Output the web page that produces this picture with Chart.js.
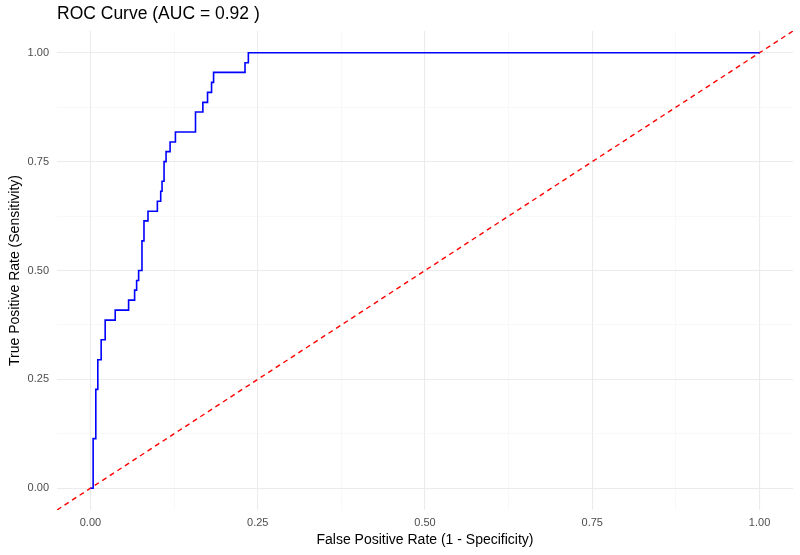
<!DOCTYPE html>
<html>
<head>
<meta charset="utf-8">
<script src="https://cdn.jsdelivr.net/npm/chart.js@4"></script>
<style>
  html, body { margin: 0; padding: 0; background: #fff; }
  #wrap { width: 800px; height: 555px; position: relative; }
</style>
</head>
<body>
<div id="wrap"><canvas id="roc"></canvas></div>
<script>
const fpr = [0, 0.004, 0.008, 0.011, 0.016, 0.022, 0.037, 0.057, 0.066, 0.069, 0.072,
  0.077, 0.080, 0.086, 0.100, 0.105, 0.107, 0.110, 0.113, 0.119, 0.127, 0.157, 0.168,
  0.175, 0.181, 0.184, 0.231, 0.236, 1.000];
const tpr = [0, 0.114, 0.227, 0.295, 0.341, 0.386, 0.409, 0.432, 0.455, 0.477, 0.500,
  0.568, 0.614, 0.636, 0.659, 0.682, 0.705, 0.750, 0.773, 0.795, 0.818, 0.864, 0.886,
  0.909, 0.932, 0.955, 0.977, 1.000, 1.000];
const diagX = [-0.05, 1.05];
const majorTicks = [0, 0.25, 0.5, 0.75, 1];
const minorTicks = [0.125, 0.375, 0.625, 0.875];
const tickLabels = ["0.00", "0.25", "0.50", "0.75", "1.00"];
const auc = "0.92";

const FONT = "'Liberation Sans', Arial, sans-serif";
const allTicks = majorTicks.concat(minorTicks).sort((a, b) => a - b);

function labelFor(v) {
  const i = majorTicks.indexOf(v);
  return i >= 0 ? tickLabels[i] : "";
}

function gridColor(ctx) {
  return majorTicks.includes(ctx.tick.value) ? "#ebebeb" : "#f3f3f3";
}
function gridWidth(ctx) {
  return majorTicks.includes(ctx.tick.value) ? 1.1 : 0.6;
}

function axis(titleText, isX) {
  return {
    type: "linear",
    min: -0.05,
    max: 1.05,
    afterBuildTicks: (s) => { s.ticks = allTicks.map((v) => ({ value: v })); },
    afterFit: (s) => {
      if (isX) s.height = 39;
      else s.width = 50;
    },
    border: { display: false },
    grid: { color: gridColor, lineWidth: gridWidth, drawTicks: false },
    ticks: {
      autoSkip: false,
      maxRotation: 0,
      color: "#4d4d4d",
      font: { family: FONT, size: 11 },
      padding: isX ? 6 : 8,
      callback: (v) => labelFor(v),
    },
    title: {
      display: true,
      text: titleText,
      color: "#000",
      font: { family: FONT, size: 14 },
      padding: isX ? { top: 2, bottom: 0 } : { top: 0, bottom: 4 },
    },
  };
}

const titlePlugin = {
  id: "leftTitle",
  afterDraw(chart) {
    const c = chart.ctx;
    c.save();
    c.fillStyle = "#000";
    c.font = "17.5px " + FONT;
    c.textBaseline = "middle";
    c.fillText(`ROC Curve (AUC = ${auc} )`, chart.chartArea.left, 14);
    c.restore();
  },
};

new Chart(document.getElementById("roc"), {
  type: "scatter",
  data: {
    datasets: [
      {
        label: "ROC",
        data: fpr.map((x, i) => ({ x, y: tpr[i] })),
        showLine: true,
        stepped: "before",
        borderColor: "#0000ff",
        borderWidth: 1.6,
        pointRadius: 0,
        order: 1,
      },
      {
        label: "Chance",
        data: diagX.map((x) => ({ x, y: x })),
        showLine: true,
        borderColor: "#ff0000",
        borderWidth: 1.4,
        borderDash: [5, 4],
        pointRadius: 0,
        order: 2,
      },
    ],
  },
  options: {
    responsive: true,
    maintainAspectRatio: false,
    animation: false,
    layout: { padding: { top: 31, right: 7, left: 7, bottom: 6 } },
    plugins: { legend: { display: false }, tooltip: { enabled: false } },
    scales: {
      x: axis("False Positive Rate (1 - Specificity)", true),
      y: axis("True Positive Rate (Sensitivity)", false),
    },
  },
  plugins: [titlePlugin],
});
</script>
</body>
</html>
